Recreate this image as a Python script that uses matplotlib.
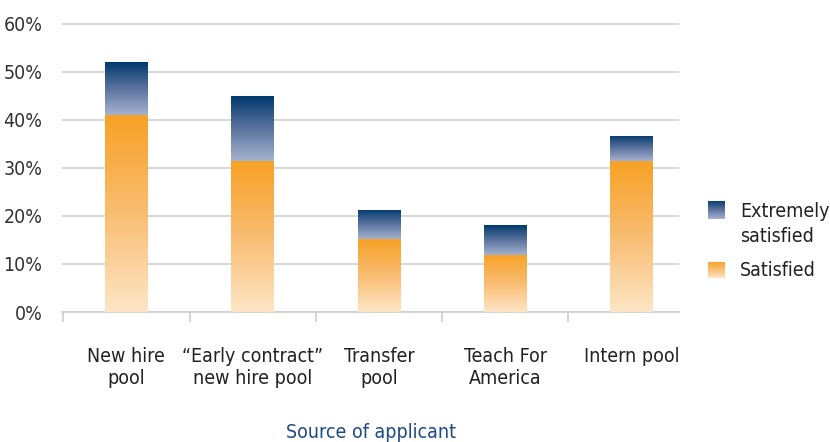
import numpy as np
import matplotlib
matplotlib.use("Agg")
import matplotlib.pyplot as plt
from matplotlib.colors import LinearSegmentedColormap
from matplotlib.patches import Rectangle

categories = ["New hire\npool", "\u201cEarly contract\u201d\nnew hire pool", "Transfer\npool",
              "Teach For\nAmerica", "Intern pool"]
satisfied = [41.0, 31.4, 15.1, 11.9, 31.4]
extremely = [11.0, 13.5, 6.1, 6.2, 5.2]
yticks = [0, 10, 20, 30, 40, 50, 60]
ytick_labels = ["0%", "10%", "20%", "30%", "40%", "50%", "60%"]
series_names = ["Extremely\nsatisfied", "Satisfied"]

plt.rcParams['font.family'] = ['DejaVu Sans']
plt.rcParams['font.stretch'] = 'condensed'

orange_cmap = LinearSegmentedColormap.from_list("org", ["#FDE6C6", "#F9BD72", "#F7A125"])
navy_cmap = LinearSegmentedColormap.from_list("nvy", ["#A6B3D1", "#5B739E", "#003A6C"])

fig = plt.figure(figsize=(8.3, 4.42), dpi=100)
y_top_px = 23.5 - 0.3 * (312 - 23.5) / 60
ax = fig.add_axes([62/830, 1-312/442, (679-62)/830, (312-y_top_px)/442])

x = np.arange(len(categories))
width = 0.34
grad = np.linspace(0, 1, 256).reshape(-1, 1)

def grad_bar(xc, bottom, height, cmap):
    rect = Rectangle((xc - width/2, bottom), width, height, facecolor='none', edgecolor='none')
    ax.add_patch(rect)
    im = ax.imshow(grad, cmap=cmap, aspect='auto', origin='lower',
                   extent=[xc - width/2, xc + width/2, bottom, bottom + height], zorder=3)
    im.set_clip_path(rect)

for i in range(len(categories)):
    grad_bar(x[i], 0, satisfied[i], orange_cmap)
    grad_bar(x[i], satisfied[i], extremely[i], navy_cmap)

ax.set_xlim(-0.51, 4.375)
ax.set_ylim(0, 60.3)

fs = 14
ax.set_yticks(yticks)
ax.set_yticklabels(ytick_labels, fontsize=fs, color="#333333")
ax.tick_params(axis='y', length=0, pad=14)
ax.yaxis.grid(True, color="#D4D4D4", linewidth=1.3)
ax.set_axisbelow(True)

ax.set_xticks(np.arange(-0.5, 4.5, 1.0))
ax.set_xticklabels([])
ax.set_xticks(x, minor=True)
ax.set_xticklabels(categories, minor=True, fontsize=fs, color="#222222", linespacing=1.25)
ax.tick_params(axis='x', which='major', length=7, color="#D0D0D0", width=1.3, direction='out')
ax.tick_params(axis='x', which='minor', length=0, pad=25)

for s in ['top', 'right', 'left']:
    ax.spines[s].set_visible(False)
ax.spines['bottom'].set_color("#D0D0D0")
ax.spines['bottom'].set_linewidth(1.3)

ax.set_xlabel("Source of applicant", fontsize=fs, color="#1F4A86", labelpad=25)

# legend swatches
for (y0, y1), cmap in [((200.5, 219), navy_cmap), ((261.5, 278), orange_cmap)]:
    lax = fig.add_axes([708/830, 1-y1/442, 17/830, (y1-y0)/442])
    lax.imshow(grad, cmap=cmap, aspect='auto', origin='lower')
    lax.axis('off')
fig.text(740/830, 1-224/442, series_names[0], fontsize=fs, color="#222222", va='center', ha='left', linespacing=1.4)
fig.text(740/830, 1-270/442, series_names[1], fontsize=fs, color="#222222", va='center', ha='left')

fig.savefig("out.png", dpi=100)
